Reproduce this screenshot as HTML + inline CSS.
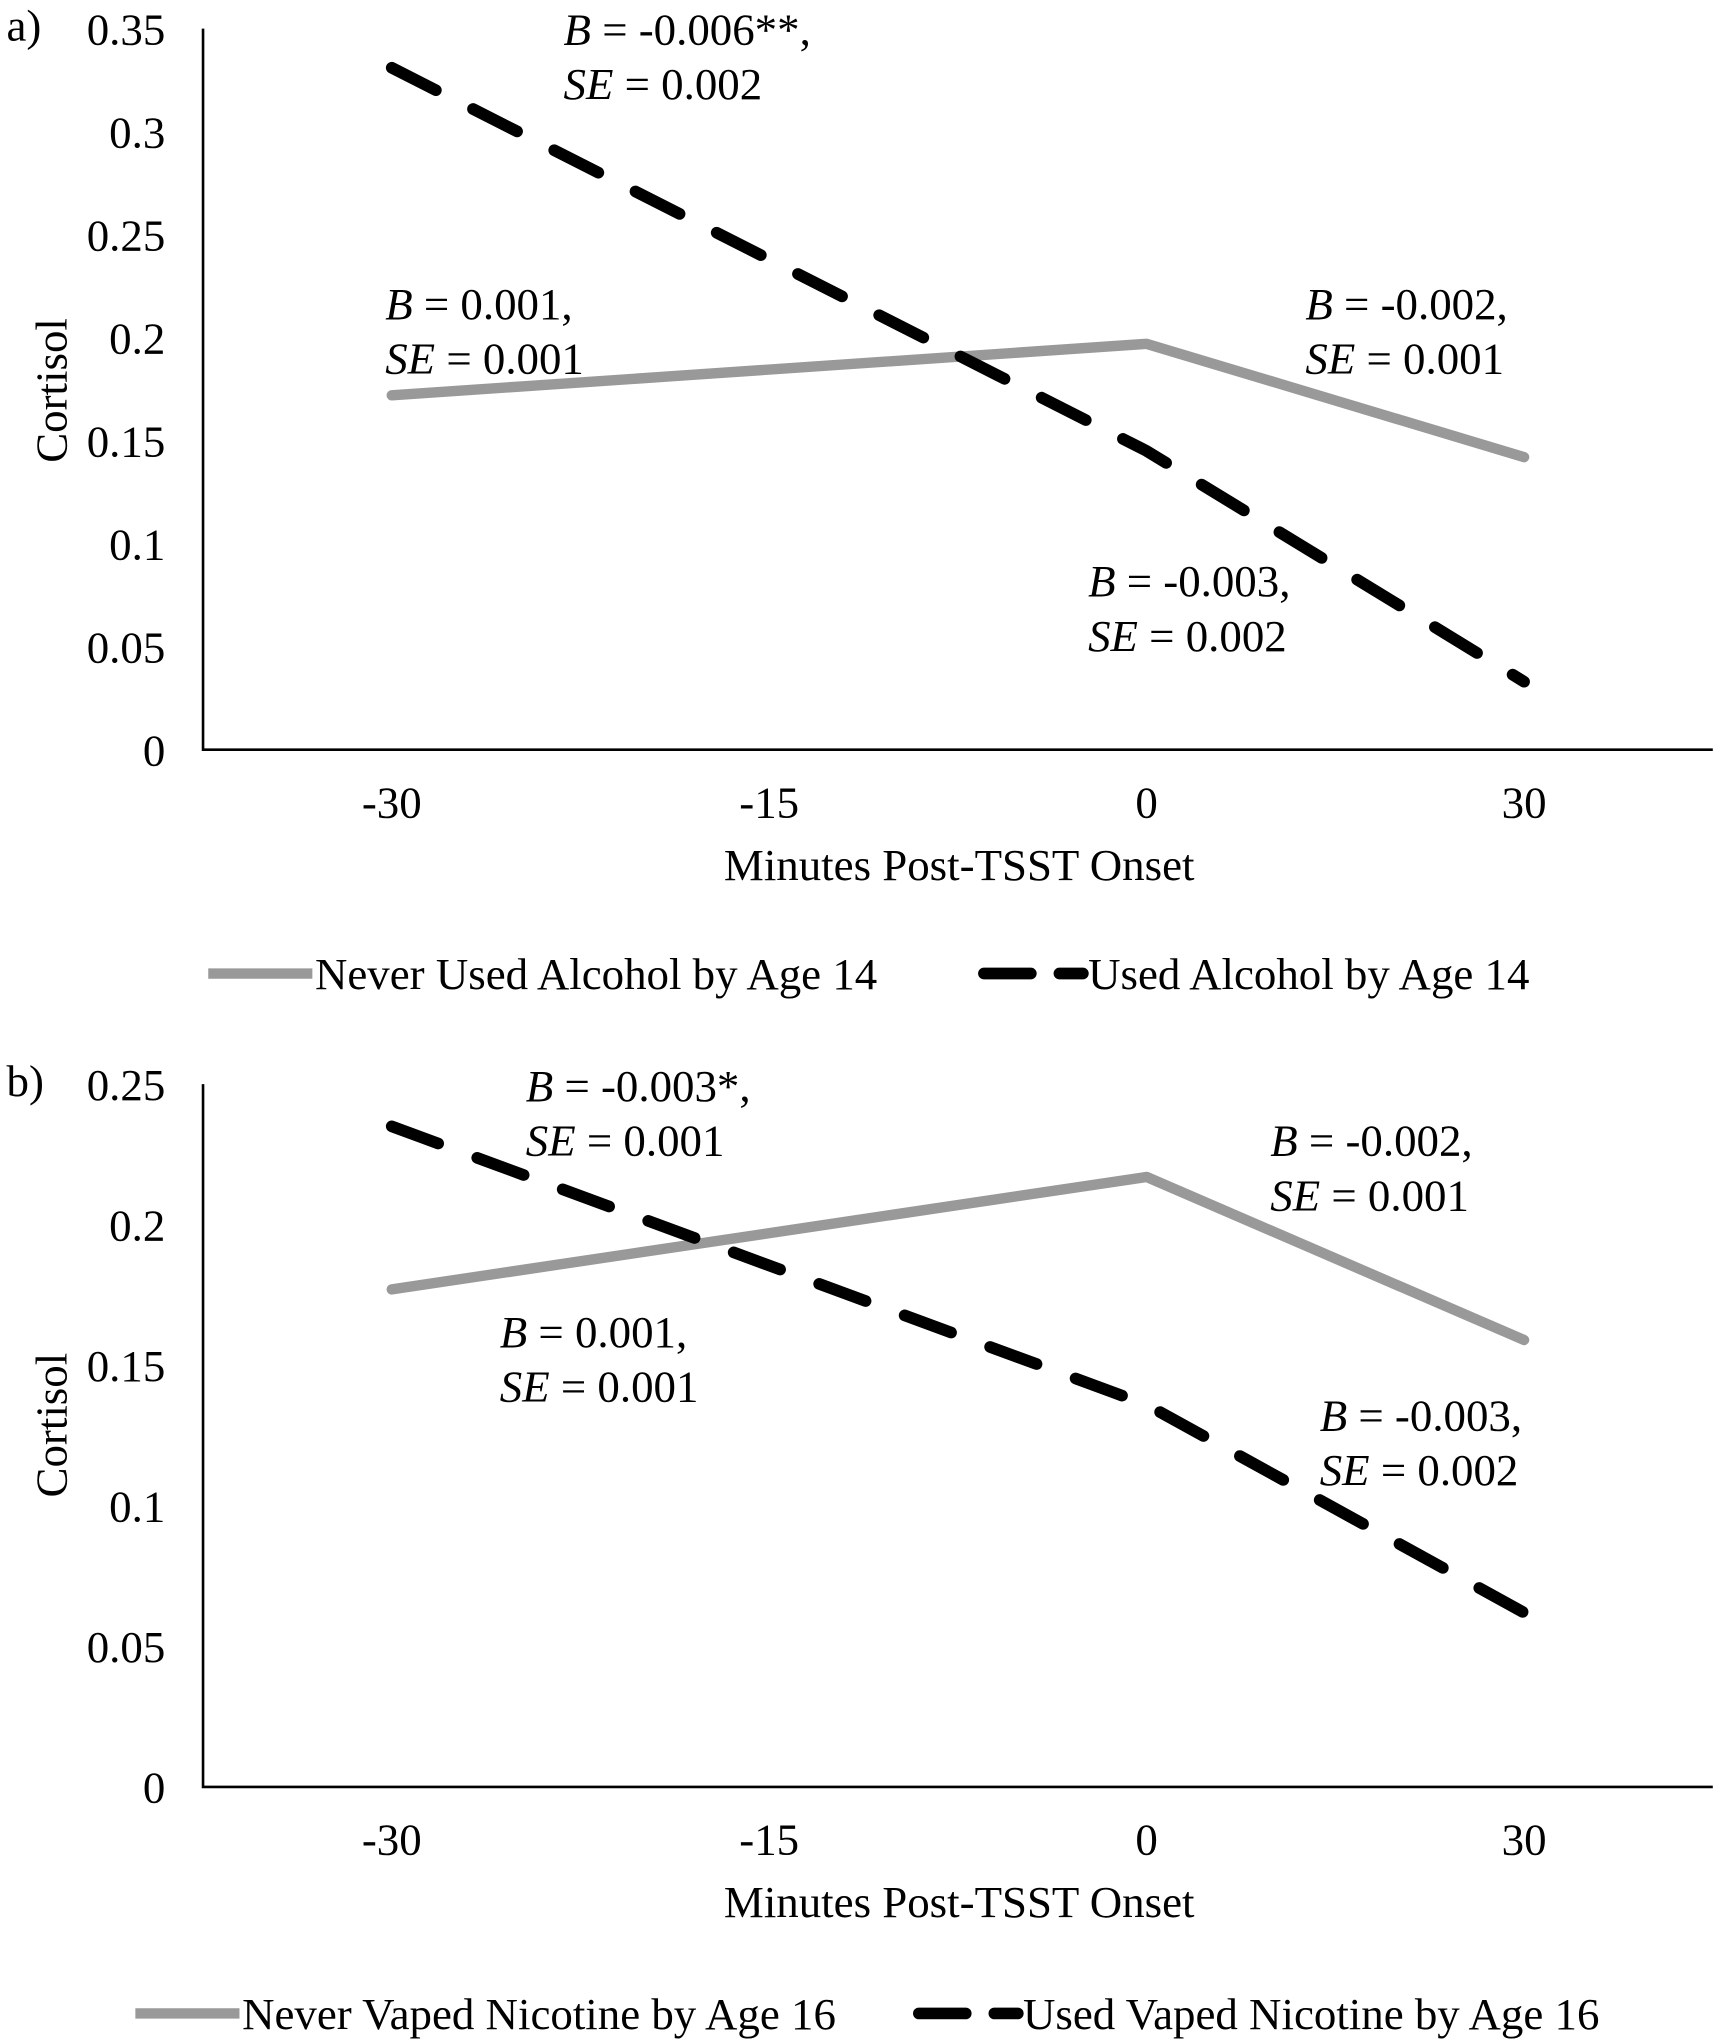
<!DOCTYPE html>
<html><head><meta charset="utf-8"><style>
html,body{margin:0;padding:0;background:#fff}
svg{display:block;font-family:"Liberation Serif",serif}
</style></head><body>
<svg id="fig" width="1718" height="2040" viewBox="0 0 1320 1567.4" xmlns="http://www.w3.org/2000/svg"></svg>
<script>
const categories = ["-30","-15","0","30"];
const pointCats = ["-30","0","30"];
const aNever = [0.172, 0.197, 0.142];
const aUsed = [0.331, 0.145, 0.033];
const aTicks = ["0","0.05","0.1","0.15","0.2","0.25","0.3","0.35"];
const bNever = [0.177, 0.217, 0.159];
const bUsed = [0.235, 0.136, 0.062];
const bTicks = ["0","0.05","0.1","0.15","0.2","0.25"];

const FS=34.5;
const NS="http://www.w3.org/2000/svg";
const svg=document.getElementById('fig');
function mk(tag,attrs,parent){const e=document.createElementNS(NS,tag);for(const k in attrs)e.setAttribute(k,attrs[k]);(parent||svg).appendChild(e);return e;}
function txt(s,x,y,anchor,parent){const t=mk('text',{x:x,y:y,'font-size':FS,'text-anchor':anchor||'start',fill:'#000'},parent);t.innerHTML=s;return t;}

function panel(cfg){
  const g=mk('g',{});
  
  
  const x0=156,x1=1316,band=(x1-x0)/categories.length;
  const xs=i=>x0+band*(i+0.5);
  const xc=c=>xs(categories.indexOf(c));
  const ys=v=>cfg.yBottom-(v/cfg.max)*(cfg.yBottom-cfg.yTop);
  const ax=mk('path',{d:`M${x0},${cfg.yTop} V${cfg.yBottom} H${x1}`,stroke:'#000','stroke-width':2,fill:'none'},g);
  
  
  cfg.ticks.forEach((t,i)=>{
    const v=i*cfg.step;
    const el=txt(t,127,ys(v)+12,'end',g);
    
    
  });
  categories.forEach((c,i)=>{
    const el=txt(c,xs(i),cfg.yBottom+52,'middle',g);
    
    
  });
  const xt=txt('Minutes Post-TSST Onset',737,cfg.yBottom+100,'middle',g);
  
  
  const yt=txt('Cortisol',0,0,'middle',g);
  yt.setAttribute('transform',`translate(51,${cfg.yMidLabel}) rotate(-90)`);
  
  
  const pl=txt(cfg.label,5,cfg.yTop+9,'start',g);
  
  
  const ptsN=cfg.never.map((v,i)=>xc(pointCats[i])+','+ys(v)).join(' ');
  const ln=mk('polyline',{points:ptsN,fill:'none',stroke:'#999','stroke-width':8,'stroke-linecap':'round','stroke-linejoin':'round'},g);
  
  
  const ptsU=cfg.used.map((v,i)=>xc(pointCats[i])+','+ys(v)).join(' ');
  const lu=mk('polyline',{points:ptsU,fill:'none',stroke:'#000','stroke-width':9,'stroke-dasharray':'38 32','stroke-linecap':'round'},g);
  
  
  cfg.ann.forEach(a=>{
    const t1=txt(`<tspan font-style="italic">B</tspan> = ${a[0]}`,a[2],a[3],'start',g);
    
    
    const t2=txt(`<tspan font-style="italic">SE</tspan> = ${a[1]}`,a[2],a[3]+42,'start',g);
    
    
  });
  const ly=cfg.legY;
  const l1=mk('line',{x1:cfg.leg[0],y1:ly,x2:cfg.leg[0]+80,y2:ly,stroke:'#999','stroke-width':8},g);
  
  
  const lt1=txt(cfg.legText[0],cfg.leg[0]+82,ly+12,'start',g);
  
  
  const l2=mk('line',{x1:cfg.leg[1]+4,y1:ly,x2:cfg.leg[1]+80,y2:ly,stroke:'#000','stroke-width':9,'stroke-dasharray':'36 22','stroke-linecap':'round'},g);
  
  
  const lt2=txt(cfg.legText[1],cfg.leg[1]+84,ly+12,'start',g);
  
  
}
panel({name:'panel-a',label:'a)',yTop:22,yBottom:576,max:0.35,step:0.05,ticks:aTicks,never:aNever,used:aUsed,yMidLabel:300,
  ann:[['-0.006**,','0.002',433,34],['0.001,','0.001',296,245],['-0.002,','0.001',1003,245],['-0.003,','0.002',836,458]],
  legY:748,leg:[160,752],legText:['Never Used Alcohol by Age 14','Used Alcohol by Age 14']});
panel({name:'panel-b',label:'b)',yTop:833,yBottom:1373,max:0.25,step:0.05,ticks:bTicks,never:bNever,used:bUsed,yMidLabel:1095,
  ann:[['-0.003*,','0.001',404,846],['-0.002,','0.001',976,888],['0.001,','0.001',384,1035],['-0.003,','0.002',1014,1099]],
  legY:1547,leg:[104,702],legText:['Never Vaped Nicotine by Age 16','Used Vaped Nicotine by Age 16']});
</script>
</body></html>
